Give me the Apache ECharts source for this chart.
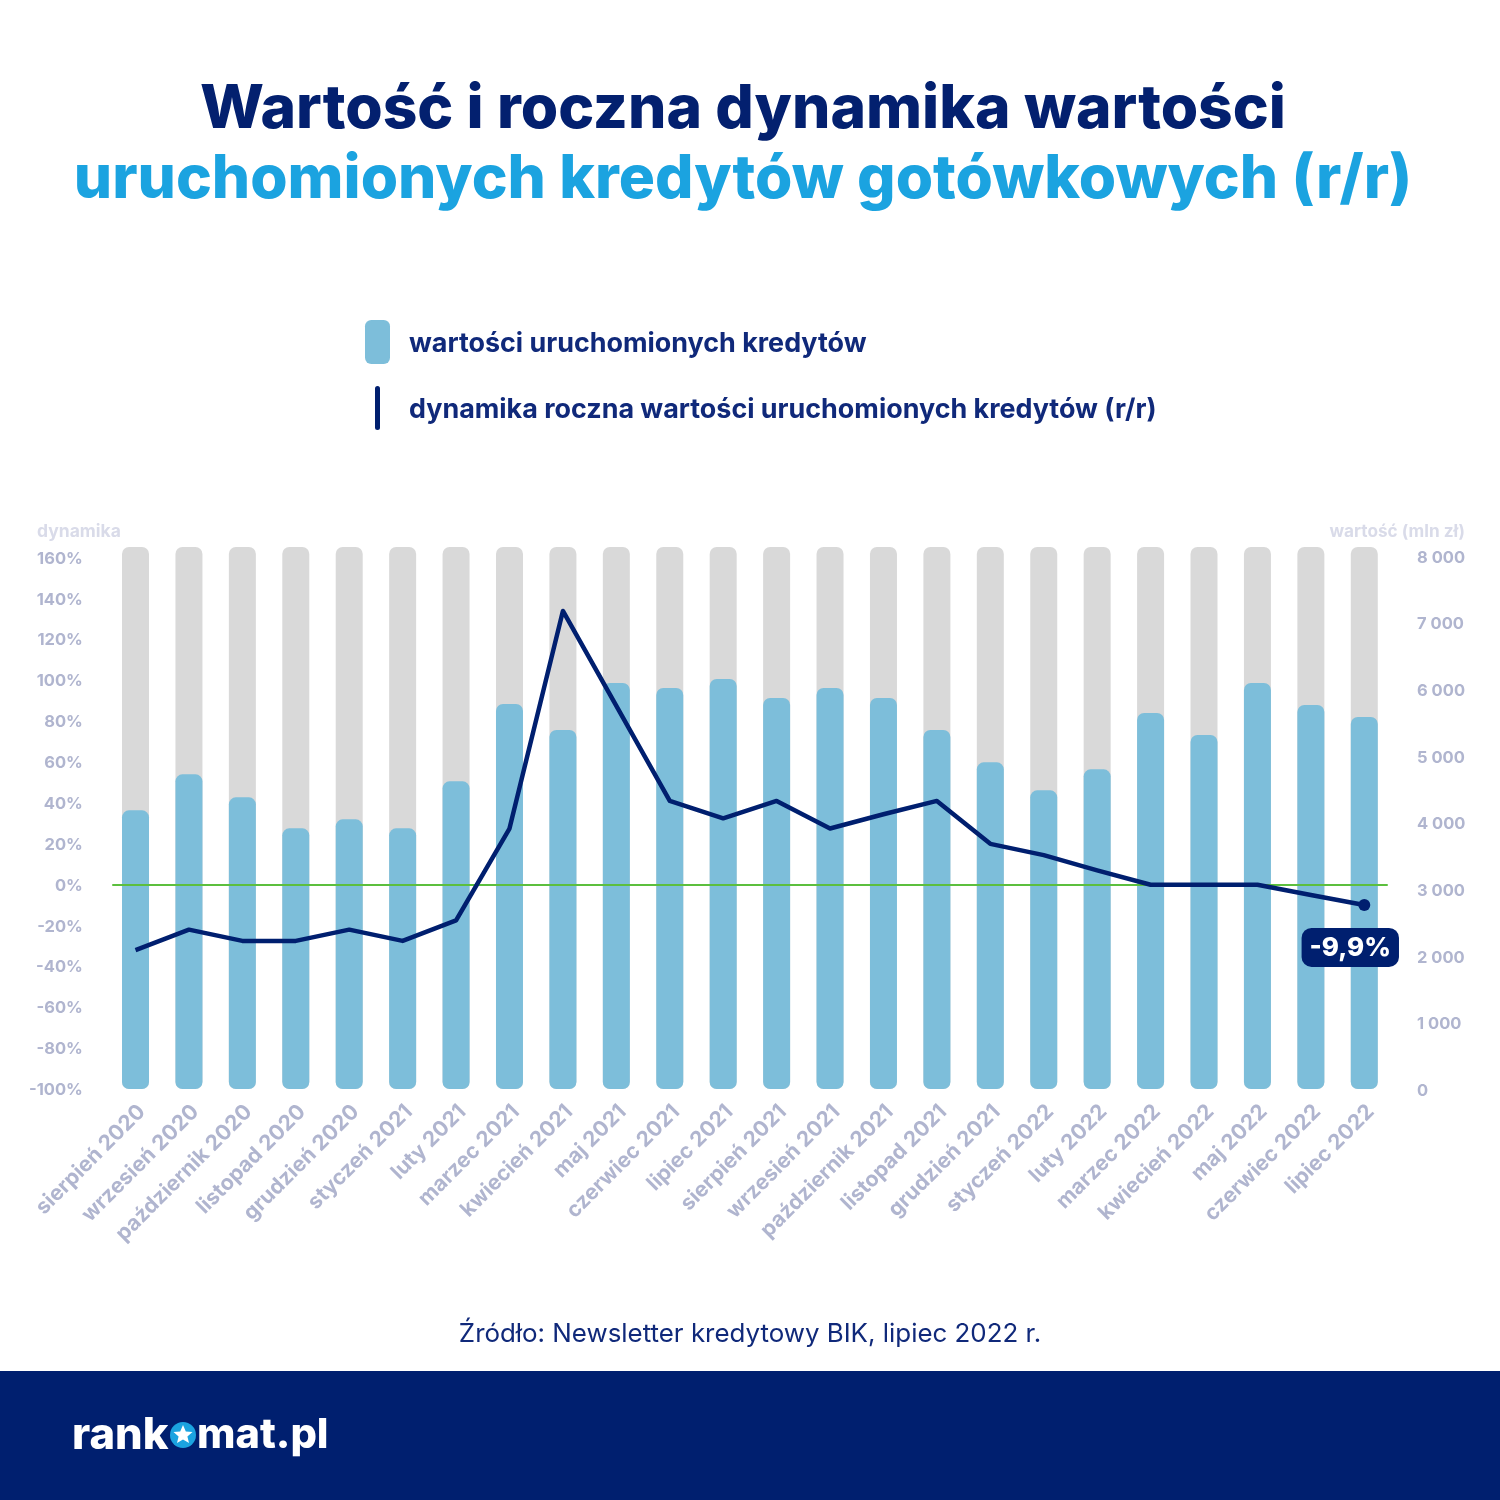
<!DOCTYPE html>
<html>
<head>
<meta charset="utf-8">
<style>html,body{margin:0;padding:0;background:#fff}#main{width:1500px;height:1500px}</style>
<script src="https://cdn.jsdelivr.net/npm/echarts@6/dist/echarts.min.js"></script>
</head>
<body>
<div id="main"></div>
<script>
var months = ['sierpień 2020','wrzesień 2020','październik 2020','listopad 2020','grudzień 2020','styczeń 2021','luty 2021','marzec 2021','kwiecień 2021','maj 2021','czerwiec 2021','lipiec 2021','sierpień 2021','wrzesień 2021','październik 2021','listopad 2021','grudzień 2021','styczeń 2022','luty 2022','marzec 2022','kwiecień 2022','maj 2022','czerwiec 2022','lipiec 2022'];
var amounts = [4180,4720,4375,3910,4045,3910,4615,5775,5385,6090,6015,6150,5865,6015,5865,5385,4900,4480,4795,5640,5310,6090,5760,5580];
var dynamics = [-32,-22,-27.5,-27.5,-22,-27.5,-17.5,27.5,134,87.5,41,32.5,41,27.5,34.5,41,20,14.5,7,0,0,0,-5,-9.9];

var FONT = 'Inter';
var NAVY = '#001f6f';
var TICK = '#b0b5cf';
var last = dynamics.length - 1;

var chart = echarts.init(document.getElementById('main'));

function text(x, y, str, size, weight, color, align) {
  return {type: 'text', x: x, y: y, z: 10, style: {
    text: str, fontFamily: FONT, fontSize: size, fontWeight: weight, fill: color,
    align: align || 'left', verticalAlign: 'middle'
  }};
}

chart.setOption({
  animation: false,
  backgroundColor: '#fff',
  textStyle: {fontFamily: FONT},
  legend: {
    left: 360, top: 315, orient: 'vertical',
    itemWidth: 25, itemHeight: 44, itemGap: 22,
    selectedMode: false,
    formatter: '{t|{name}}',
    textStyle: {
      padding: [0, 0, 0, 14],
      rich: {t: {fontFamily: FONT, fontSize: 26.9, fontWeight: 700, color: '#10297a', padding: [4, 0, 0, 0]}}
    },
    data: [
      {name: 'wartości uruchomionych kredytów', icon: 'roundRect'},
      {name: 'dynamika roczna wartości uruchomionych kredytów (r/r)', icon: 'path://M2.5 0a2.5 2.5 0 0 1 2.5 2.5v39a2.5 2.5 0 0 1-5 0v-39a2.5 2.5 0 0 1 2.5-2.5z'}
    ]
  },
  grid: [
    {left: 108.8, width: 1282.2, top: 547, height: 542},
    {left: 113, width: 1274, top: 547, height: 542}
  ],
  xAxis: [
    {
      type: 'category', gridIndex: 0, data: months,
      axisLine: {show: false}, axisTick: {show: false},
      axisLabel: {interval: 0, rotate: 45, margin: 13, verticalAlign: 'top', lineHeight: 18, fontFamily: FONT, fontSize: 21.3, fontWeight: 700, color: TICK}
    },
    // zero line of the dynamics scale
    {
      type: 'value', gridIndex: 1, min: 0, max: 1, z: 3,
      axisLine: {show: true, onZero: true, lineStyle: {color: '#5cbf3e', width: 2}},
      axisTick: {show: false}, axisLabel: {show: false}, splitLine: {show: false}
    }
  ],
  yAxis: [
    {
      type: 'value', gridIndex: 0, position: 'left', min: -100, max: 165.3, interval: 20,
      axisLine: {show: false}, axisTick: {show: false}, splitLine: {show: false},
      axisLabel: {
        margin: 26, verticalAlign: 'top', lineHeight: 2, fontFamily: FONT, fontSize: 16.5, fontWeight: 700, color: TICK,
        formatter: function (v) { return v % 20 === 0 ? v + '%' : ''; }
      }
    },
    {
      type: 'value', gridIndex: 0, position: 'right', min: 0, max: 8130, interval: 1000,
      axisLine: {show: false}, axisTick: {show: false}, splitLine: {show: false},
      axisLabel: {
        margin: 26, verticalAlign: 'top', lineHeight: 4, fontFamily: FONT, fontSize: 16.5, fontWeight: 700, color: TICK,
        formatter: function (v) { return v % 1000 === 0 ? String(v).replace(/(\d)(\d{3})$/, '$1 $2') : ''; }
      }
    },
    {type: 'value', gridIndex: 1, min: -100, max: 165.3, show: false}
  ],
  series: [
    {
      name: 'wartości uruchomionych kredytów',
      type: 'bar', xAxisIndex: 0, yAxisIndex: 1, barWidth: 27, data: amounts,
      showBackground: true,
      backgroundStyle: {color: '#d9d9d9', borderRadius: 7},
      itemStyle: {color: '#7dbeda', borderRadius: 7}
    },
    {
      name: 'dynamika roczna wartości uruchomionych kredytów (r/r)',
      type: 'line', xAxisIndex: 0, yAxisIndex: 0, z: 5,
      showAllSymbol: true, symbol: 'circle',
      symbolSize: function (v, p) { return p.dataIndex === last ? 12 : 0; },
      lineStyle: {color: NAVY, width: 4.5, join: 'round'},
      itemStyle: {color: NAVY},
      data: dynamics.map(function (v, i) {
        if (i !== last) return v;
        return {
          value: v,
          label: {
            show: true, position: 'bottom', distance: 17, offset: [-14, 0],
            formatter: String(v).replace('.', ',') + '%',
            fontFamily: FONT, fontSize: 26, fontWeight: 800, color: '#fff', lineHeight: 26,
            backgroundColor: NAVY, borderRadius: 10, padding: [7, 8, 6, 8]
          }
        };
      })
    }
  ],
  graphic: [
    {type: 'rect', z: 1, shape: {x: 0, y: 1371, width: 1500, height: 129}, style: {fill: NAVY}},
    text(743, 110, 'Wartość i roczna dynamika wartości', 60.5, 800, '#03206f', 'center'),
    text(743, 180, 'uruchomionych kredytów gotówkowych (r/r)', 60.4, 800, '#1ba3e0', 'center'),
    text(37, 532, 'dynamika', 17.5, 700, '#d9dbe9'),
    text(1465, 532, 'wartość (mln zł)', 17.2, 700, '#d9dbe9', 'right'),
    text(750, 1334, 'Źródło: Newsletter kredytowy BIK, lipiec 2022 r.', 25.9, 400, '#10297a', 'center'),
    text(72, 1436, 'rank', 43.5, 800, '#fff'),
    {type: 'circle', z: 10, shape: {cx: 183, cy: 1435, r: 13}, style: {fill: '#1ba3e0'}},
    {type: 'polygon', z: 11, shape: {points: [[183,1425],[185.8,1431.4],[192.5,1432],[187.4,1436.5],[189,1443],[183,1439.6],[177,1443],[178.6,1436.5],[173.5,1432],[180.2,1431.4]]}, style: {fill: '#fff'}},
    text(197, 1436, 'mat.pl', 41.5, 800, '#fff')
  ]
});
</script>
</body>
</html>
